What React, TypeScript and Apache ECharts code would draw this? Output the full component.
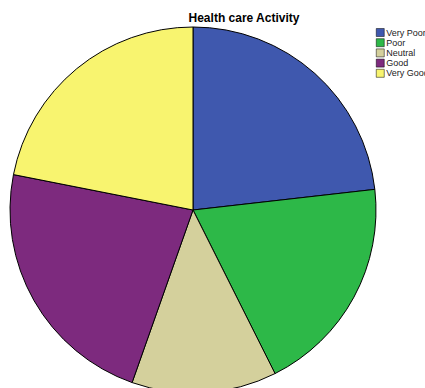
import React, { useEffect, useRef } from "react";
import * as echarts from "echarts";

const categories = ["Very Poor", "Poor", "Neutral", "Good", "Very Good"];
const values = [23.2, 19.4, 12.8, 22.7, 21.9];
const colors = ["#3F58AE", "#2DB848", "#D4D09C", "#7D2A7E", "#F8F46F"];

export default function App() {
  const ref = useRef<HTMLDivElement>(null);
  useEffect(() => {
    const chart = echarts.init(ref.current!, null, { renderer: "svg" });
    chart.setOption({
      animation: false,
      backgroundColor: "#ffffff",
      title: {
        text: "Health care Activity",
        left: 239,
        top: 7,
        textAlign: "center",
        textStyle: { fontFamily: "Liberation Sans, Arial, sans-serif", fontSize: 12, fontWeight: "bold", color: "#000" },
      },
      legend: {
        orient: "vertical",
        left: 376,
        top: 28,
        padding: 0,
        itemWidth: 8,
        itemHeight: 8,
        itemGap: 1.2,
        icon: "rect",
        data: categories,
        textStyle: { fontFamily: "Liberation Sans, Arial, sans-serif", fontSize: 9, color: "#222", padding: [0, 0, 0, -3] },
        itemStyle: { borderColor: "#000", borderWidth: 0.5 },
      },
      series: [
        {
          type: "pie",
          center: [193, 210],
          radius: 183,
          startAngle: 90,
          clockwise: true,
          label: { show: false },
          labelLine: { show: false },
          itemStyle: { borderColor: "#000", borderWidth: 1 },
          emphasis: { disabled: true },
          data: categories.map((c, i) => ({ name: c, value: values[i], itemStyle: { color: colors[i] } })),
        },
      ],
    });
    return () => chart.dispose();
  }, []);
  return <div ref={ref} style={{ position: "fixed", left: 0, top: 0, width: 425, height: 388 }} />;
}
